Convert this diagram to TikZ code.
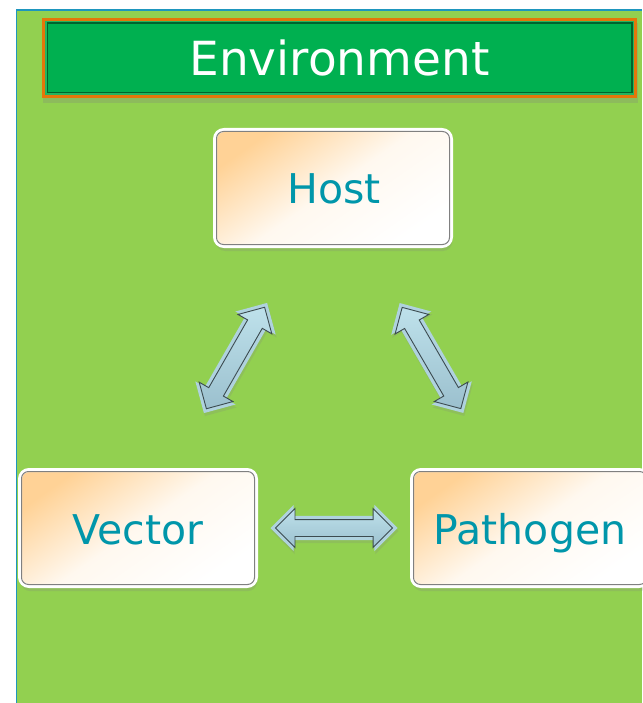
\documentclass[tikz,border=0pt]{standalone}
\usepackage{fontspec}
\setmainfont{DejaVu Sans}
\usetikzlibrary{shapes.arrows,shadows}
\definecolor{bggreen}{RGB}{146,208,80}
\definecolor{frameteal}{RGB}{30,150,190}
\definecolor{envgreen}{RGB}{0,176,80}
\definecolor{envmid}{RGB}{35,180,95}
\definecolor{envdark}{RGB}{0,100,45}
\definecolor{envorange}{RGB}{228,118,10}
\definecolor{peach}{RGB}{255,210,150}
\definecolor{txtteal}{RGB}{0,150,170}
\definecolor{arrowrim}{RGB}{175,210,222}
\definecolor{arrowlight}{RGB}{190,225,235}
\definecolor{arrowdark}{RGB}{155,192,206}
\definecolor{arrowline}{RGB}{60,75,80}
\begin{document}
\begin{tikzpicture}[x=1pt,y=-1pt,
  envbox/.style={rectangle, minimum width=595, minimum height=80, inner sep=0,
    fill=envorange, drop shadow={opacity=0.25, shadow xshift=1pt, shadow yshift=-5pt}},
  itembox/.style={rectangle, rounded corners=9, minimum width=236, minimum height=116,
    draw=white, line width=4,
    top color=peach, bottom color=white, middle color=peach!15!white, shading angle=35,
    drop shadow={opacity=0.22, shadow xshift=1pt, shadow yshift=-5pt}},
  itemtext/.style={text=txtteal, font=\fontsize{41}{49}\selectfont, anchor=base, inner sep=0},
  innerline/.style={draw=black!50, line width=1, rounded corners=7},
  arrowouter/.style={double arrow, minimum height=127, inner xsep=0, inner ysep=12,
    double arrow head extend=11, fill=arrowrim,
    drop shadow={opacity=0.2, shadow xshift=1pt, shadow yshift=-3pt}},
  arrowinner/.style={double arrow, minimum height=117, inner xsep=0, inner ysep=8,
    double arrow head extend=11, draw=arrowline, line width=0.9,
    top color=arrowlight, bottom color=arrowdark}
]
\useasboundingbox (0,0) rectangle (642,703);
\fill[white] (0,0) rectangle (642,703);
\fill[bggreen] (16.5,10) rectangle (642,703);
\draw[frameteal, line width=1.5] (16.5,703) -- (16.5,10) -- (642,10);

% Environment banner
\node[envbox] (env) at (339.5,58) {};
\fill[envmid] ([shift={(3,3)}]env.north west) rectangle ([shift={(-3,-3)}]env.south east);
\draw[envdark, line width=1.6, fill=envgreen] ([shift={(5.5,5.5)}]env.north west) rectangle ([shift={(-5.5,-5.5)}]env.south east);
\node[text=white, font=\fontsize{47}{56}\selectfont] (envtext) at (env.center) {Environment};

% Boxes
\node[itembox] (h) at (333,188) {};
\draw[innerline] ([shift={(3.5,3.5)}]h.north west) rectangle ([shift={(-3.5,-3.5)}]h.south east);
\node[itemtext] (ht) at ([shift={(1,16)}]h.center) {Host};

\node[itembox] (v) at (138,528) {};
\draw[innerline] ([shift={(3.5,3.5)}]v.north west) rectangle ([shift={(-3.5,-3.5)}]v.south east);
\node[itemtext] (vt) at ([shift={(0,16)}]v.center) {Vector};

\node[itembox] (p) at (530,528) {};
\draw[innerline] ([shift={(3.5,3.5)}]p.north west) rectangle ([shift={(-3.5,-3.5)}]p.south east);
\node[itemtext] (pt) at ([shift={(0,16)}]p.center) {Pathogen};

% Connectors
\path (h.center) -- (v.center) node[midway, sloped, arrowouter] (a1o) {} node[midway, sloped, arrowinner] (a1i) {};
\path (h.center) -- (p.center) node[midway, sloped, arrowouter] (a2o) {} node[midway, sloped, arrowinner] (a2i) {};
\path (v.center) -- (p.center) node[midway, sloped, arrowouter] (a3o) {} node[midway, sloped, arrowinner] (a3i) {};
\end{tikzpicture}
\end{document}
